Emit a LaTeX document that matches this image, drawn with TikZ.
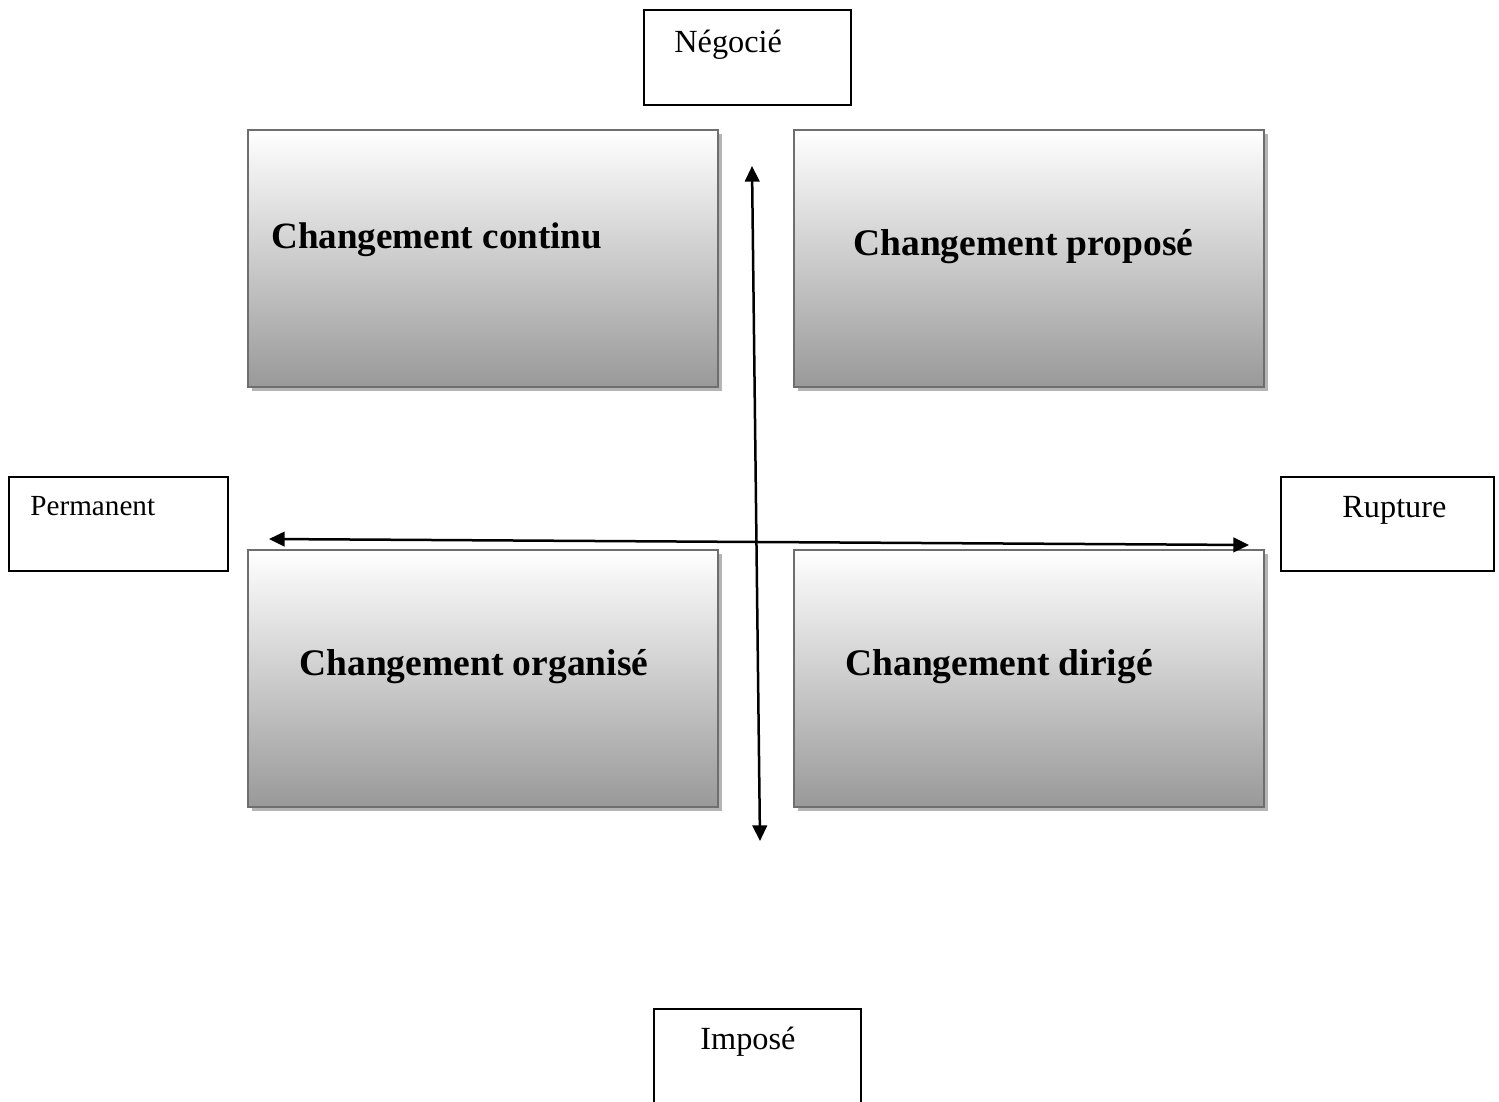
\documentclass[tikz,border=0pt]{standalone}
\usepackage{fontspec}
\setmainfont{Liberation Serif}
\usetikzlibrary{arrows.meta,shadows}
\definecolor{quadedge}{HTML}{6E6E6E}
\definecolor{quadbottom}{HTML}{999999}
\definecolor{quadshadow}{HTML}{B4B4B4}
\begin{document}
\begin{tikzpicture}[x=0.48pt,y=-0.48pt,
  quad/.style={draw=quadedge, line width=1.3pt, top color=white, bottom color=quadbottom,
    minimum width=225.6pt, minimum height=123.4pt, inner sep=0pt,
    drop shadow={shadow xshift=2pt, shadow yshift=-2pt, fill=quadshadow, opacity=1}},
  tag/.style={draw=black, line width=0.8pt, fill=white, inner sep=0pt},
  quadtext/.style={anchor=base west, inner sep=0pt, font=\fontsize{18}{22}\selectfont\bfseries},
  tagtext/.style={anchor=base west, inner sep=0pt, font=\fontsize{15.5}{18}\selectfont},
  axis/.style={line width=1.2pt, {Triangle[length=7.5pt,width=7pt]}-{Triangle[length=7.5pt,width=7pt]}}]
\useasboundingbox (0,0) rectangle (1499,1102);

% four quadrants
\node[quad] (continu)  at (483,258.5) {};
\node[quad] (propose)  at (1029,258.5) {};
\node[quad] (organise) at (483,678.5) {};
\node[quad] (dirige)   at (1029,678.5) {};
\node[quadtext, font=\fontsize{17.8}{22}\selectfont\bfseries] (tcontinu) at (271,248) {Changement continu};
\node[quadtext] (tpropose)  at (853,255) {Changement proposé};
\node[quadtext] (torganise) at (299,675) {Changement organisé};
\node[quadtext] (tdirige)   at (845,675) {Changement dirigé};

% pole labels
\node[tag, minimum width=99.4pt, minimum height=45.6pt] (negocie)   at (747.5,57.5) {};
\node[tag, minimum width=105.1pt, minimum height=45.1pt] (permanent) at (118.5,524) {};
\node[tag, minimum width=102.2pt, minimum height=45.1pt] (rupture)   at (1387.5,524) {};
\node[tag, minimum width=99.4pt, minimum height=48pt] (impose)    at (757.5,1059) {};
\node[tagtext] (tnegocie)   at (674,52)   {Négocié};
\node[tagtext, font=\fontsize{14}{17}\selectfont] (tpermanent) at (30,515) {Permanent};
\node[tagtext] (trupture)   at (1342,517) {Rupture};
\node[tagtext] (timpose)    at (700,1049) {Imposé};

% axes
\coordinate (vtop) at (752,166);
\coordinate (vbot) at (760,841);
\coordinate (hleft) at (269,539);
\coordinate (hright) at (1249,545);
\draw[axis] (vbot) -- (vtop);
\draw[axis] (hleft) -- (hright);
\end{tikzpicture}
\end{document}
